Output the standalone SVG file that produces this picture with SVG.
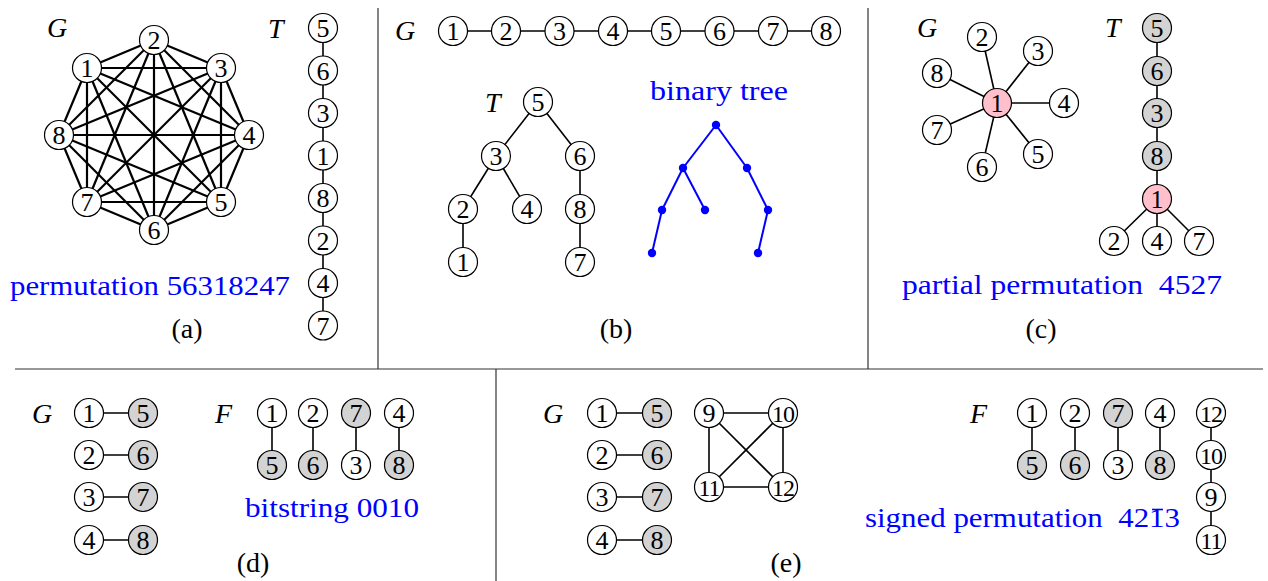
<svg xmlns="http://www.w3.org/2000/svg" width="1268" height="581" viewBox="0 0 1268 581">
<style>
.bg{fill:#fff}
.n circle{fill:#fff;stroke:#000;stroke-width:1.2}
.n.g circle{fill:#d3d3d3}
.n.p circle{fill:#ffc0cb}
.n text{font-family:"Liberation Serif","DejaVu Serif",serif;font-size:26px;text-anchor:middle;fill:#000}
.n text.two{font-size:24px;letter-spacing:-1px}
.e line{stroke:#000;stroke-width:1.6}
.k line{stroke:#000;stroke-width:2.2}
.bt line{stroke:#0000ff;stroke-width:2}
.bt circle{fill:#0000ff}
.lab{font-family:"Liberation Serif","DejaVu Serif",serif;font-size:28px;font-style:italic;fill:#000}
.blue{font-family:"Liberation Serif","DejaVu Serif",serif;font-size:28px;fill:#0000ff}
.cap{font-family:"Liberation Serif","DejaVu Serif",serif;font-size:28px;fill:#000;text-anchor:middle}
.div line{stroke:#333;stroke-width:1.2}
</style>
<rect class="bg" x="0" y="0" width="1268" height="581"/>
<g id="dividers" class="div">
<line x1="378" y1="8" x2="378" y2="369"/>
<line x1="868" y1="8" x2="868" y2="369"/>
<line x1="15" y1="369" x2="1263" y2="369"/>
<line x1="496" y1="369" x2="496" y2="581"/>
</g>
<g id="connectors">
<g class="k">
<line x1="87" y1="68" x2="154" y2="40"/><line x1="87" y1="68" x2="221" y2="68"/><line x1="87" y1="68" x2="249" y2="135"/><line x1="87" y1="68" x2="221" y2="202"/><line x1="87" y1="68" x2="154" y2="230"/><line x1="87" y1="68" x2="87" y2="202"/><line x1="87" y1="68" x2="59" y2="135"/>
<line x1="154" y1="40" x2="221" y2="68"/><line x1="154" y1="40" x2="249" y2="135"/><line x1="154" y1="40" x2="221" y2="202"/><line x1="154" y1="40" x2="154" y2="230"/><line x1="154" y1="40" x2="87" y2="202"/><line x1="154" y1="40" x2="59" y2="135"/>
<line x1="221" y1="68" x2="249" y2="135"/><line x1="221" y1="68" x2="221" y2="202"/><line x1="221" y1="68" x2="154" y2="230"/><line x1="221" y1="68" x2="87" y2="202"/><line x1="221" y1="68" x2="59" y2="135"/>
<line x1="249" y1="135" x2="221" y2="202"/><line x1="249" y1="135" x2="154" y2="230"/><line x1="249" y1="135" x2="87" y2="202"/><line x1="249" y1="135" x2="59" y2="135"/>
<line x1="221" y1="202" x2="154" y2="230"/><line x1="221" y1="202" x2="87" y2="202"/><line x1="221" y1="202" x2="59" y2="135"/>
<line x1="154" y1="230" x2="87" y2="202"/><line x1="154" y1="230" x2="59" y2="135"/>
<line x1="87" y1="202" x2="59" y2="135"/>
</g>
<g class="e">
<line x1="323" y1="28" x2="323" y2="325.5"/>
<line x1="453" y1="31" x2="826" y2="31"/>
<line x1="538" y1="102" x2="496" y2="156"/><line x1="538" y1="102" x2="580" y2="156"/><line x1="496" y1="156" x2="463" y2="209"/><line x1="496" y1="156" x2="527" y2="209"/><line x1="580" y1="156" x2="580" y2="262"/><line x1="463" y1="209" x2="463" y2="262"/>
<line x1="997" y1="103" x2="982" y2="37"/><line x1="997" y1="103" x2="1038" y2="51"/><line x1="997" y1="103" x2="937" y2="73"/><line x1="997" y1="103" x2="1064" y2="103"/><line x1="997" y1="103" x2="937" y2="130"/><line x1="997" y1="103" x2="1038" y2="154"/><line x1="997" y1="103" x2="982" y2="167"/>
<line x1="1157" y1="28" x2="1157" y2="241"/><line x1="1157" y1="199" x2="1114" y2="241"/><line x1="1157" y1="199" x2="1199" y2="241"/>
<line x1="89" y1="413" x2="143" y2="413"/><line x1="89" y1="455" x2="143" y2="455"/><line x1="89" y1="497" x2="143" y2="497"/><line x1="89" y1="540" x2="143" y2="540"/>
<line x1="272" y1="413" x2="272" y2="465"/><line x1="313" y1="413" x2="313" y2="465"/><line x1="356" y1="413" x2="356" y2="465"/><line x1="399" y1="413" x2="399" y2="465"/>
<line x1="602" y1="413" x2="657" y2="413"/><line x1="602" y1="455" x2="657" y2="455"/><line x1="602" y1="497" x2="657" y2="497"/><line x1="602" y1="540" x2="657" y2="540"/>
<line x1="709" y1="413" x2="783" y2="413"/><line x1="709" y1="413" x2="709" y2="487"/><line x1="783" y1="413" x2="783" y2="487"/><line x1="709" y1="487" x2="783" y2="487"/><line x1="709" y1="413" x2="783" y2="487"/><line x1="783" y1="413" x2="709" y2="487"/>
<line x1="1032" y1="413" x2="1032" y2="465"/><line x1="1075" y1="413" x2="1075" y2="465"/><line x1="1118" y1="413" x2="1118" y2="465"/><line x1="1160" y1="413" x2="1160" y2="465"/>
<line x1="1211" y1="413" x2="1211" y2="540"/>
</g>
<g id="binary-tree" class="bt">
<line x1="716" y1="125" x2="683" y2="168"/><line x1="716" y1="125" x2="747" y2="168"/><line x1="683" y1="168" x2="662" y2="210"/><line x1="683" y1="168" x2="705" y2="210"/><line x1="747" y1="168" x2="768" y2="210"/><line x1="662" y1="210" x2="652" y2="253"/><line x1="768" y1="210" x2="758" y2="253"/>
<circle cx="716" cy="125" r="4.2"/><circle cx="683" cy="168" r="4.2"/><circle cx="747" cy="168" r="4.2"/><circle cx="662" cy="210" r="4.2"/><circle cx="705" cy="210" r="4.2"/><circle cx="768" cy="210" r="4.2"/><circle cx="652" cy="253" r="4.2"/><circle cx="758" cy="253" r="4.2"/>
</g>
</g>
<!-- panel a -->
<g id="a-G-1" class="n"><circle cx="87" cy="68" r="14.5"/><text x="87" y="77">1</text></g>
<g id="a-G-2" class="n"><circle cx="154" cy="40" r="14.5"/><text x="154" y="49">2</text></g>
<g id="a-G-3" class="n"><circle cx="221" cy="68" r="14.5"/><text x="221" y="77">3</text></g>
<g id="a-G-4" class="n"><circle cx="249" cy="135" r="14.5"/><text x="249" y="144">4</text></g>
<g id="a-G-5" class="n"><circle cx="221" cy="202" r="14.5"/><text x="221" y="211">5</text></g>
<g id="a-G-6" class="n"><circle cx="154" cy="230" r="14.5"/><text x="154" y="239">6</text></g>
<g id="a-G-7" class="n"><circle cx="87" cy="202" r="14.5"/><text x="87" y="211">7</text></g>
<g id="a-G-8" class="n"><circle cx="59" cy="135" r="14.5"/><text x="59" y="144">8</text></g>
<g id="a-T-5" class="n"><circle cx="323" cy="28" r="14.5"/><text x="323" y="37">5</text></g>
<g id="a-T-6" class="n"><circle cx="323" cy="70.5" r="14.5"/><text x="323" y="79.5">6</text></g>
<g id="a-T-3" class="n"><circle cx="323" cy="113" r="14.5"/><text x="323" y="122">3</text></g>
<g id="a-T-1" class="n"><circle cx="323" cy="155.5" r="14.5"/><text x="323" y="164.5">1</text></g>
<g id="a-T-8" class="n"><circle cx="323" cy="198" r="14.5"/><text x="323" y="207">8</text></g>
<g id="a-T-2" class="n"><circle cx="323" cy="240.5" r="14.5"/><text x="323" y="249.5">2</text></g>
<g id="a-T-4" class="n"><circle cx="323" cy="283" r="14.5"/><text x="323" y="292">4</text></g>
<g id="a-T-7" class="n"><circle cx="323" cy="325.5" r="14.5"/><text x="323" y="334.5">7</text></g>
<text class="lab" x="47" y="37">G</text>
<text class="lab" x="268" y="38">T</text>
<text class="blue" x="10" y="295" textLength="280" lengthAdjust="spacingAndGlyphs">permutation 56318247</text>
<text class="cap" x="187" y="338">(a)</text>
<!-- panel b -->
<g id="b-G-1" class="n"><circle cx="453" cy="31" r="14.5"/><text x="453" y="40">1</text></g>
<g id="b-G-2" class="n"><circle cx="506" cy="31" r="14.5"/><text x="506" y="40">2</text></g>
<g id="b-G-3" class="n"><circle cx="559.5" cy="31" r="14.5"/><text x="559.5" y="40">3</text></g>
<g id="b-G-4" class="n"><circle cx="613" cy="31" r="14.5"/><text x="613" y="40">4</text></g>
<g id="b-G-5" class="n"><circle cx="666" cy="31" r="14.5"/><text x="666" y="40">5</text></g>
<g id="b-G-6" class="n"><circle cx="719.5" cy="31" r="14.5"/><text x="719.5" y="40">6</text></g>
<g id="b-G-7" class="n"><circle cx="773" cy="31" r="14.5"/><text x="773" y="40">7</text></g>
<g id="b-G-8" class="n"><circle cx="826" cy="31" r="14.5"/><text x="826" y="40">8</text></g>
<g id="b-T-5" class="n"><circle cx="538" cy="102" r="14.5"/><text x="538" y="111">5</text></g>
<g id="b-T-3" class="n"><circle cx="496" cy="156" r="14.5"/><text x="496" y="165">3</text></g>
<g id="b-T-6" class="n"><circle cx="580" cy="156" r="14.5"/><text x="580" y="165">6</text></g>
<g id="b-T-2" class="n"><circle cx="463" cy="209" r="14.5"/><text x="463" y="218">2</text></g>
<g id="b-T-4" class="n"><circle cx="527" cy="209" r="14.5"/><text x="527" y="218">4</text></g>
<g id="b-T-8" class="n"><circle cx="580" cy="209" r="14.5"/><text x="580" y="218">8</text></g>
<g id="b-T-1" class="n"><circle cx="463" cy="262" r="14.5"/><text x="463" y="271">1</text></g>
<g id="b-T-7" class="n"><circle cx="580" cy="262" r="14.5"/><text x="580" y="271">7</text></g>
<text class="lab" x="395" y="40">G</text>
<text class="lab" x="485" y="112">T</text>
<text class="blue" x="650" y="100" textLength="138" lengthAdjust="spacingAndGlyphs">binary tree</text>
<text class="cap" x="616" y="338">(b)</text>
<!-- panel c -->
<g id="c-G-1" class="n p"><circle cx="997" cy="103" r="14.5"/><text x="997" y="112">1</text></g>
<g id="c-G-2" class="n"><circle cx="982" cy="37" r="14.5"/><text x="982" y="46">2</text></g>
<g id="c-G-3" class="n"><circle cx="1038" cy="51" r="14.5"/><text x="1038" y="60">3</text></g>
<g id="c-G-4" class="n"><circle cx="1064" cy="103" r="14.5"/><text x="1064" y="112">4</text></g>
<g id="c-G-5" class="n"><circle cx="1038" cy="154" r="14.5"/><text x="1038" y="163">5</text></g>
<g id="c-G-6" class="n"><circle cx="982" cy="167" r="14.5"/><text x="982" y="176">6</text></g>
<g id="c-G-7" class="n"><circle cx="937" cy="130" r="14.5"/><text x="937" y="139">7</text></g>
<g id="c-G-8" class="n"><circle cx="937" cy="73" r="14.5"/><text x="937" y="82">8</text></g>
<g id="c-T-5" class="n g"><circle cx="1157" cy="28" r="14.5"/><text x="1157" y="37">5</text></g>
<g id="c-T-6" class="n g"><circle cx="1157" cy="71" r="14.5"/><text x="1157" y="80">6</text></g>
<g id="c-T-3" class="n g"><circle cx="1157" cy="113" r="14.5"/><text x="1157" y="122">3</text></g>
<g id="c-T-8" class="n g"><circle cx="1157" cy="156" r="14.5"/><text x="1157" y="165">8</text></g>
<g id="c-T-1" class="n p"><circle cx="1157" cy="199" r="14.5"/><text x="1157" y="208">1</text></g>
<g id="c-T-2" class="n"><circle cx="1114" cy="241" r="14.5"/><text x="1114" y="250">2</text></g>
<g id="c-T-4" class="n"><circle cx="1157" cy="241" r="14.5"/><text x="1157" y="250">4</text></g>
<g id="c-T-7" class="n"><circle cx="1199" cy="241" r="14.5"/><text x="1199" y="250">7</text></g>
<text class="lab" x="917" y="37">G</text>
<text class="lab" x="1105" y="37">T</text>
<text class="blue" x="902" y="294" textLength="320" lengthAdjust="spacingAndGlyphs" xml:space="preserve">partial permutation  4527</text>
<text class="cap" x="1041" y="338">(c)</text>
<!-- panel d -->
<g id="d-G-1" class="n"><circle cx="89" cy="413" r="14.5"/><text x="89" y="422">1</text></g>
<g id="d-G-5" class="n g"><circle cx="143" cy="413" r="14.5"/><text x="143" y="422">5</text></g>
<g id="d-G-2" class="n"><circle cx="89" cy="455" r="14.5"/><text x="89" y="464">2</text></g>
<g id="d-G-6" class="n g"><circle cx="143" cy="455" r="14.5"/><text x="143" y="464">6</text></g>
<g id="d-G-3" class="n"><circle cx="89" cy="497" r="14.5"/><text x="89" y="506">3</text></g>
<g id="d-G-7" class="n g"><circle cx="143" cy="497" r="14.5"/><text x="143" y="506">7</text></g>
<g id="d-G-4" class="n"><circle cx="89" cy="540" r="14.5"/><text x="89" y="549">4</text></g>
<g id="d-G-8" class="n g"><circle cx="143" cy="540" r="14.5"/><text x="143" y="549">8</text></g>
<g id="d-F-1" class="n"><circle cx="272" cy="413" r="14.5"/><text x="272" y="422">1</text></g>
<g id="d-F-2" class="n"><circle cx="313" cy="413" r="14.5"/><text x="313" y="422">2</text></g>
<g id="d-F-7" class="n g"><circle cx="356" cy="413" r="14.5"/><text x="356" y="422">7</text></g>
<g id="d-F-4" class="n"><circle cx="399" cy="413" r="14.5"/><text x="399" y="422">4</text></g>
<g id="d-F-5" class="n g"><circle cx="272" cy="465" r="14.5"/><text x="272" y="474">5</text></g>
<g id="d-F-6" class="n g"><circle cx="313" cy="465" r="14.5"/><text x="313" y="474">6</text></g>
<g id="d-F-3" class="n"><circle cx="356" cy="465" r="14.5"/><text x="356" y="474">3</text></g>
<g id="d-F-8" class="n g"><circle cx="399" cy="465" r="14.5"/><text x="399" y="474">8</text></g>
<text class="lab" x="32" y="423">G</text>
<text class="lab" x="215" y="423">F</text>
<text class="blue" x="245" y="517" textLength="174" lengthAdjust="spacingAndGlyphs">bitstring 0010</text>
<text class="cap" x="253" y="572">(d)</text>
<!-- panel e -->
<g id="e-G-1" class="n"><circle cx="602" cy="413" r="14.5"/><text x="602" y="422">1</text></g>
<g id="e-G-5" class="n g"><circle cx="657" cy="413" r="14.5"/><text x="657" y="422">5</text></g>
<g id="e-G-2" class="n"><circle cx="602" cy="455" r="14.5"/><text x="602" y="464">2</text></g>
<g id="e-G-6" class="n g"><circle cx="657" cy="455" r="14.5"/><text x="657" y="464">6</text></g>
<g id="e-G-3" class="n"><circle cx="602" cy="497" r="14.5"/><text x="602" y="506">3</text></g>
<g id="e-G-7" class="n g"><circle cx="657" cy="497" r="14.5"/><text x="657" y="506">7</text></g>
<g id="e-G-4" class="n"><circle cx="602" cy="540" r="14.5"/><text x="602" y="549">4</text></g>
<g id="e-G-8" class="n g"><circle cx="657" cy="540" r="14.5"/><text x="657" y="549">8</text></g>
<g id="e-G-9" class="n"><circle cx="709" cy="413" r="14.5"/><text x="709" y="422">9</text></g>
<g id="e-G-10" class="n"><circle cx="783" cy="413" r="14.5"/><text class="two" x="783" y="421.5">10</text></g>
<g id="e-G-11" class="n"><circle cx="709" cy="487" r="14.5"/><text class="two" x="709" y="495.5">11</text></g>
<g id="e-G-12" class="n"><circle cx="783" cy="487" r="14.5"/><text class="two" x="783" y="495.5">12</text></g>
<g id="e-F-1" class="n"><circle cx="1032" cy="413" r="14.5"/><text x="1032" y="422">1</text></g>
<g id="e-F-2" class="n"><circle cx="1075" cy="413" r="14.5"/><text x="1075" y="422">2</text></g>
<g id="e-F-7" class="n g"><circle cx="1118" cy="413" r="14.5"/><text x="1118" y="422">7</text></g>
<g id="e-F-4" class="n"><circle cx="1160" cy="413" r="14.5"/><text x="1160" y="422">4</text></g>
<g id="e-F-5" class="n g"><circle cx="1032" cy="465" r="14.5"/><text x="1032" y="474">5</text></g>
<g id="e-F-6" class="n g"><circle cx="1075" cy="465" r="14.5"/><text x="1075" y="474">6</text></g>
<g id="e-F-3" class="n"><circle cx="1118" cy="465" r="14.5"/><text x="1118" y="474">3</text></g>
<g id="e-F-8" class="n g"><circle cx="1160" cy="465" r="14.5"/><text x="1160" y="474">8</text></g>
<g id="e-F-12" class="n"><circle cx="1211" cy="413" r="14.5"/><text class="two" x="1211" y="421.5">12</text></g>
<g id="e-F-10" class="n"><circle cx="1211" cy="455" r="14.5"/><text class="two" x="1211" y="463.5">10</text></g>
<g id="e-F-9" class="n"><circle cx="1211" cy="497" r="14.5"/><text x="1211" y="506">9</text></g>
<g id="e-F-11" class="n"><circle cx="1211" cy="540" r="14.5"/><text class="two" x="1211" y="548.5">11</text></g>
<text class="lab" x="543" y="423">G</text>
<text class="lab" x="970" y="423">F</text>
<g id="signed-label">
<text class="blue" x="865" y="527" textLength="315" lengthAdjust="spacingAndGlyphs" xml:space="preserve">signed permutation  4213</text>
<line x1="1152" y1="509.5" x2="1163" y2="509.5" stroke="#0000ff" stroke-width="1.6"/>
</g>
<text class="cap" x="786" y="572">(e)</text>
</svg>
